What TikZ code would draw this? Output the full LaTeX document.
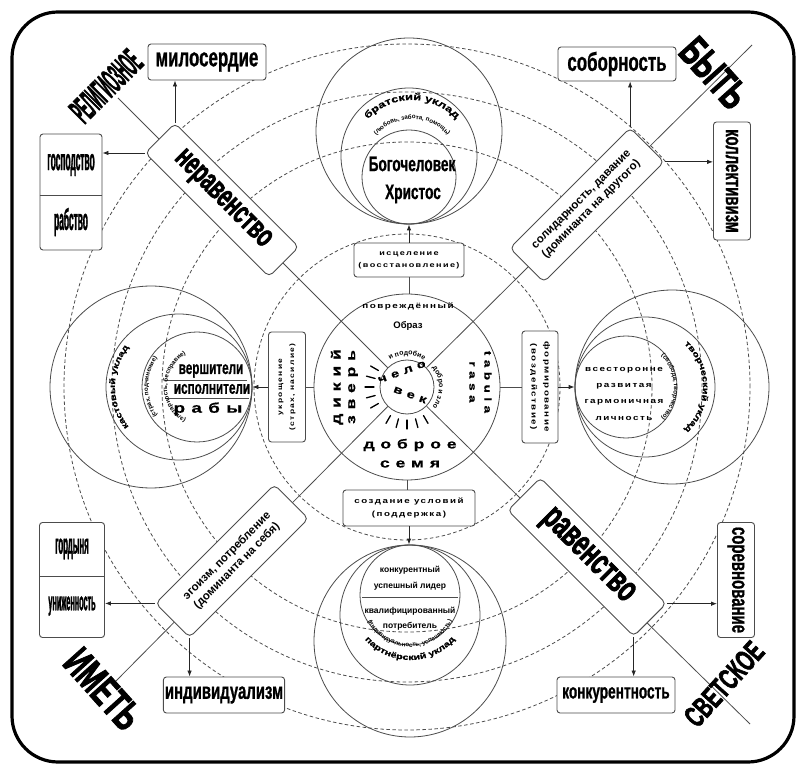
\documentclass[tikz,border=0pt]{standalone}
\usepackage{fontspec}
\setmainfont{Liberation Sans}
\newfontfamily\narrowF[FakeStretch=0.65,FakeBold=0.8]{Liberation Sans}
\newfontfamily\heavyF[FakeStretch=0.62,FakeBold=2]{Liberation Sans}
\newfontfamily\heavyU[FakeStretch=0.31,FakeBold=1.2]{Liberation Sans}
\newfontfamily\ucondF[FakeStretch=0.28,FakeBold=1]{Liberation Sans}
\newfontfamily\wideF[FakeStretch=1.3,LetterSpace=20]{Liberation Sans}
\newfontfamily\xwideF[FakeStretch=1.35,LetterSpace=45,FakeBold=0.6]{Liberation Sans}
\newfontfamily\arcF[FakeStretch=1.35,FakeBold=0.6]{Liberation Sans}
\usetikzlibrary{arrows.meta,decorations.text}
\newcommand\fsz[1]{\fontsize{#1}{#1}\selectfont}
\newcommand\arcA{\arcF\bfseries\fsz{9.5}}
\newcommand\arcS{\bfseries\fsz{6.2}}
\newcommand\arcM{\arcF\bfseries\fsz{8}}
\newcommand\arcC{\bfseries\fsz{7}}
\begin{document}
\begin{tikzpicture}[x=1pt,y=-1pt,
  frm/.style={draw=black, line width=3.2pt, rounded corners=46pt},
  dashc/.style={draw=black!70, line width=0.8pt, dash pattern=on 3.5pt off 2.5pt},
  lnx/.style={draw=black!70, line width=0.8pt},
  satc/.style={circle, draw=black!70, line width=0.8pt, inner sep=0pt},
  bx/.style={draw=black!70, fill=white, rounded corners=3pt, line width=0.9pt, inner sep=1.5pt, align=center},
  dbx/.style={bx, rounded corners=5pt},
  arw/.style={-{Latex[length=6pt,width=4.5pt]}, line width=0.8pt, draw=black!85},
  rayx/.style={line width=1.3pt, line cap=round},
  lbl/.style={inner sep=0pt, align=center}
]
\useasboundingbox (0,0) rectangle (801,767);
\draw[frm] (12,12) rectangle (794,762);
\coordinate (C) at (407,387);
\foreach \r in {153,245,295,343}{\draw[dashc] (C) circle[radius=\r pt];}

% centre
\node[satc, minimum size=186pt] (cc) at (C) {};
\node[satc, minimum size=54pt] (ic) at (C) {};
\coordinate (eTL) at (118,98);
\coordinate (eTR) at (752,45);
\coordinate (eBL) at (115,682);
\coordinate (eBR) at (750,724);
\foreach \e in {eTL,eTR,eBL,eBR}{\draw[lnx] (ic) -- (\e);}

% satellites
\node[satc, minimum size=186pt] (satT) at (409,131) {};
\draw[lnx] (409,156) circle[radius=68pt];
\draw[lnx] (409,177) circle[radius=47pt];
\node[satc, minimum size=202pt] (satL) at (151,387) {};
\draw[lnx] (179,387) circle[radius=73pt];
\draw[lnx] (197,387) circle[radius=55pt];
\node[satc, minimum size=194pt] (satR) at (672,387) {};
\draw[lnx] (645,387) circle[radius=70pt];
\draw[lnx] (626,387) circle[radius=51pt];
\node[satc, minimum size=192pt] (satB) at (410,641) {};
\draw[lnx] (410,615) circle[radius=70pt];
\draw[lnx] (410,595) circle[radius=50pt];

% label boxes round the centre
\node[bx, minimum width=110pt, minimum height=34pt, font=\wideF\bfseries\fontsize{7}{12}\selectfont] (lT) at (409,260)
  {исцеление\\(восстановление)};
\node[bx, minimum width=132pt, minimum height=36pt, font=\wideF\bfseries\fontsize{7.5}{13}\selectfont] (lB) at (409,508)
  {создание условий\\(поддержка)};
\node[bx, rotate=90, minimum width=110pt, minimum height=37pt, font=\wideF\bfseries\fontsize{6.5}{12}\selectfont] (lL) at (287,387)
  {укрощение\\(страх, насилие)};
\node[bx, rotate=-90, minimum width=112pt, minimum height=36pt, font=\wideF\bfseries\fontsize{7.5}{13}\selectfont] (lR) at (540,387)
  {формирование\\(воздействие)};
\draw[lnx] (lT.south) -- (lT.south |- cc.north);
\draw[arw] (lT.north) -- (satT.south);
\draw[lnx] (cc.south) -- (cc.south |- lB.north);
\draw[arw] (lB.south) -- (lB.south |- satB.north);
\draw[lnx] (cc.west) -- (lL);
\draw[arw] (lL) -- (satL.east);
\draw[lnx] (cc.east) -- (lR);
\draw[arw] (lR) -- (satR.west);

% diagonal boxes
\node[dbx, rotate=-45, minimum width=175pt, minimum height=42pt, font=\heavyF\bfseries\fsz{32}] (nb) at (222,200)
  {неравенство};
\node[dbx, rotate=45, minimum width=170pt, minimum height=48pt, font=\bfseries\fontsize{11.5}{14}\selectfont] (sb) at (587,205)
  {солидарность, давание\\(доминанта на другого)};
\node[dbx, rotate=45, minimum width=168pt, minimum height=48pt, font=\bfseries\fontsize{11.5}{14}\selectfont] (eb) at (232,561)
  {эгоизм, потребление\\(доминанта на себя)};
\node[dbx, rotate=-45, minimum width=178pt, minimum height=46pt, font=\heavyF\bfseries\fsz{37}] (rb) at (587,557)
  {равенство};

% corner boxes
\node[bx, minimum width=118pt, minimum height=36pt] (mil) at (207,62) {\narrowF\bfseries\fsz{26}милосердие};
\node[bx, minimum width=118pt, minimum height=34pt] (sob) at (617,64) {\narrowF\bfseries\fsz{26}соборность};
\node[bx, rotate=-90, minimum width=118pt, minimum height=37pt] (kol) at (732,181) {\narrowF\bfseries\fsz{23}коллективизм};
\node[bx, minimum width=62pt, minimum height=116pt] (gr) at (71,192) {};
\coordinate (grd) at (71,195);
\draw[lnx] (gr.west |- grd) -- (gr.east |- grd);
\node[lbl] (gr1) at (71,165) {\ucondF\bfseries\fsz{30}господство};
\node[lbl] (gr2) at (71,222) {\ucondF\bfseries\fsz{30}рабство};
\node[bx, minimum width=65pt, minimum height=115pt] (gu) at (72,580) {};
\coordinate (gud) at (72,576);
\draw[lnx] (gu.west |- gud) -- (gu.east |- gud);
\node[lbl] (gu1) at (72,549) {\ucondF\bfseries\fsz{28}гордыня};
\node[lbl] (gu2) at (72,606) {\ucondF\bfseries\fsz{26}униженность};
\node[bx, minimum width=118pt, minimum height=36pt] (ind) at (224,695) {\narrowF\bfseries\fsz{23}индивидуализм};
\node[bx, minimum width=118pt, minimum height=36pt] (kon) at (616,695) {\narrowF\bfseries\fsz{21}конкурентность};
\node[bx, rotate=-90, minimum width=115pt, minimum height=37pt] (sor) at (736,580) {\narrowF\bfseries\fsz{23}соревнование};

\draw[arw] (nb.north west) -- (nb.north west |- mil.south);
\draw[arw] (nb.south west) -- (nb.south west -| gr.east);
\draw[arw] (sb.north east) -- (sb.north east |- sob.south);
\draw[arw] (sb.south east) -- (sb.south east -| kol.south);
\draw[arw] (eb.north west) -- (eb.north west -| gu.east);
\draw[arw] (eb.south west) -- (eb.south west |- ind.north);
\draw[arw] (rb.north east) -- (rb.north east -| sor.south);
\draw[arw] (rb.south east) -- (rb.south east |- kon.north);

% big corner words
\node[lbl, rotate=45] (rel) at (106,86) {\heavyU\bfseries\fsz{36}РЕЛИГИОЗНОЕ};
\node[lbl, rotate=-48] (byt) at (714,73) {\heavyF\bfseries\fsz{42}БЫТЬ};
\node[lbl, rotate=-48] (imet) at (103,689) {\heavyF\bfseries\fsz{42}ИМЕТЬ};
\node[lbl, rotate=48] (svet) at (724,684) {\heavyF\bfseries\fsz{30}СВЕТСКОЕ};

% centre texts
\node[lbl] (t1) at (408,306) {\wideF\bfseries\fsz{7.6}повреждённый};
\node[lbl] (t2) at (408,326) {\bfseries\fsz{9.5}Образ};
\path[decorate, decoration={text along path, text align=center, text={|\arcC|и подобие}}]
  ([shift={(140:32pt)}]C) arc[start angle=140, end angle=40, radius=32pt];
\path[decorate, decoration={text along path, text align=center, text={|\arcC|добро и зло}}]
  ([shift={(42:32pt)}]C) arc[start angle=42, end angle=-42, radius=32pt];
\foreach \a in {150,165,180,195,210,240,255,270,285,300}{\draw[rayx] ([shift={(\a:33pt)}]C) -- ([shift={(\a:42pt)}]C);}
\node[lbl, rotate=20] (t3) at (402,372) {\xwideF\bfseries\fsz{11}чело};
\node[lbl, rotate=-20] (t4) at (410,395) {\xwideF\bfseries\fsz{11}век};
\node[lbl, rotate=-90] (t5) at (488,382) {\xwideF\bfseries\fsz{10}tabula};
\node[lbl, rotate=-90] (t6) at (472,382) {\xwideF\bfseries\fsz{10}rasa};
\node[lbl, rotate=90] (t7) at (337,387) {\xwideF\bfseries\fsz{13}дикий};
\node[lbl, rotate=90] (t8) at (353,387) {\xwideF\bfseries\fsz{13}зверь};
\node[lbl] (t9) at (410,445) {\xwideF\bfseries\fsz{13}доброе};
\node[lbl] (t10) at (410,464) {\xwideF\bfseries\fsz{13}семя};

% top satellite texts
\node[lbl] (x1) at (412,164) {\narrowF\bfseries\fsz{21}Богочеловек};
\node[lbl] (x2) at (413,194) {\narrowF\bfseries\fsz{21}Христос};
\path[decorate, decoration={text along path, text align=center, text={|\arcA|братский уклад}}]
  ([shift={(165:60pt)}]412,160) arc[start angle=165, end angle=15, radius=60pt];
\path[decorate, decoration={text along path, text align=center, text={|\arcS|(любовь, забота, помощь)}}]
  ([shift={(160:47pt)}]412,166) arc[start angle=160, end angle=20, radius=47pt];

% left satellite texts
\node[lbl] (y1) at (211,371) {\narrowF\bfseries\fsz{18}вершители};
\node[lbl] (y2) at (212,389) {\narrowF\bfseries\fsz{18}исполнители};
\node[lbl] (y3) at (208,409) {\xwideF\bfseries\fsz{14}рабы};
\coordinate (yl1) at (165,380);
\coordinate (yl2) at (247,380);
\coordinate (yl3) at (165,398);
\coordinate (yl4) at (249,398);
\draw[lnx] (yl1) -- (yl2);
\draw[lnx] (yl3) -- (yl4);
\path[decorate, decoration={text along path, text align=center, text={|\arcM|кастовый уклад}}]
  ([shift={(240:64pt)}]179,387) arc[start angle=240, end angle=120, radius=64pt];
\path[decorate, decoration={text along path, text align=center, text={|\arcS|(страх, подчинение)}}]
  ([shift={(235:49pt)}]197,387) arc[start angle=235, end angle=125, radius=49pt];
\path[decorate, decoration={text along path, text align=center, text={|\arcS|(элитарность, бесправие)}}]
  ([shift={(240:38pt)}]205,387) arc[start angle=240, end angle=120, radius=38pt];

% right satellite texts
\node[lbl] (z1) at (624,370) {\wideF\bfseries\fsz{7.6}всесторонне};
\node[lbl] (z2) at (624,386) {\wideF\bfseries\fsz{7.6}развитая};
\node[lbl] (z3) at (624,402) {\wideF\bfseries\fsz{7.6}гармоничная};
\node[lbl] (z4) at (624,418) {\wideF\bfseries\fsz{7.6}личность};
\path[decorate, decoration={text along path, text align=center, text={|\arcM|творческий уклад}}]
  ([shift={(62:58pt)}]645,387) arc[start angle=62, end angle=-62, radius=58pt];
\path[decorate, decoration={text along path, text align=center, text={|\arcS|(свобода, творчество)}}]
  ([shift={(55:44pt)}]630,387) arc[start angle=55, end angle=-55, radius=44pt];

% bottom satellite texts
\node[lbl] (w1) at (410,570) {\bfseries\fsz{8.5}конкурентный};
\node[lbl] (w2) at (410,586) {\bfseries\fsz{8.5}успешный лидер};
\coordinate (wl1) at (362,597);
\coordinate (wl2) at (458,597);
\draw[lnx] (wl1) -- (wl2);
\node[lbl] (w3) at (410,611) {\bfseries\fsz{8.5}квалифицированный};
\node[lbl] (w4) at (410,626) {\bfseries\fsz{8.5}потребитель};
\path[decorate, decoration={text along path, text align=center, text={|\arcS|(индивидуальность, успешность)}}]
  ([shift={(205:47pt)}]410,600) arc[start angle=205, end angle=335, radius=47pt];
\path[decorate, decoration={text along path, text align=center, text={|\arcM|партнёрский уклад}}]
  ([shift={(210:60pt)}]410,600) arc[start angle=210, end angle=330, radius=60pt];
\end{tikzpicture}
\end{document}
